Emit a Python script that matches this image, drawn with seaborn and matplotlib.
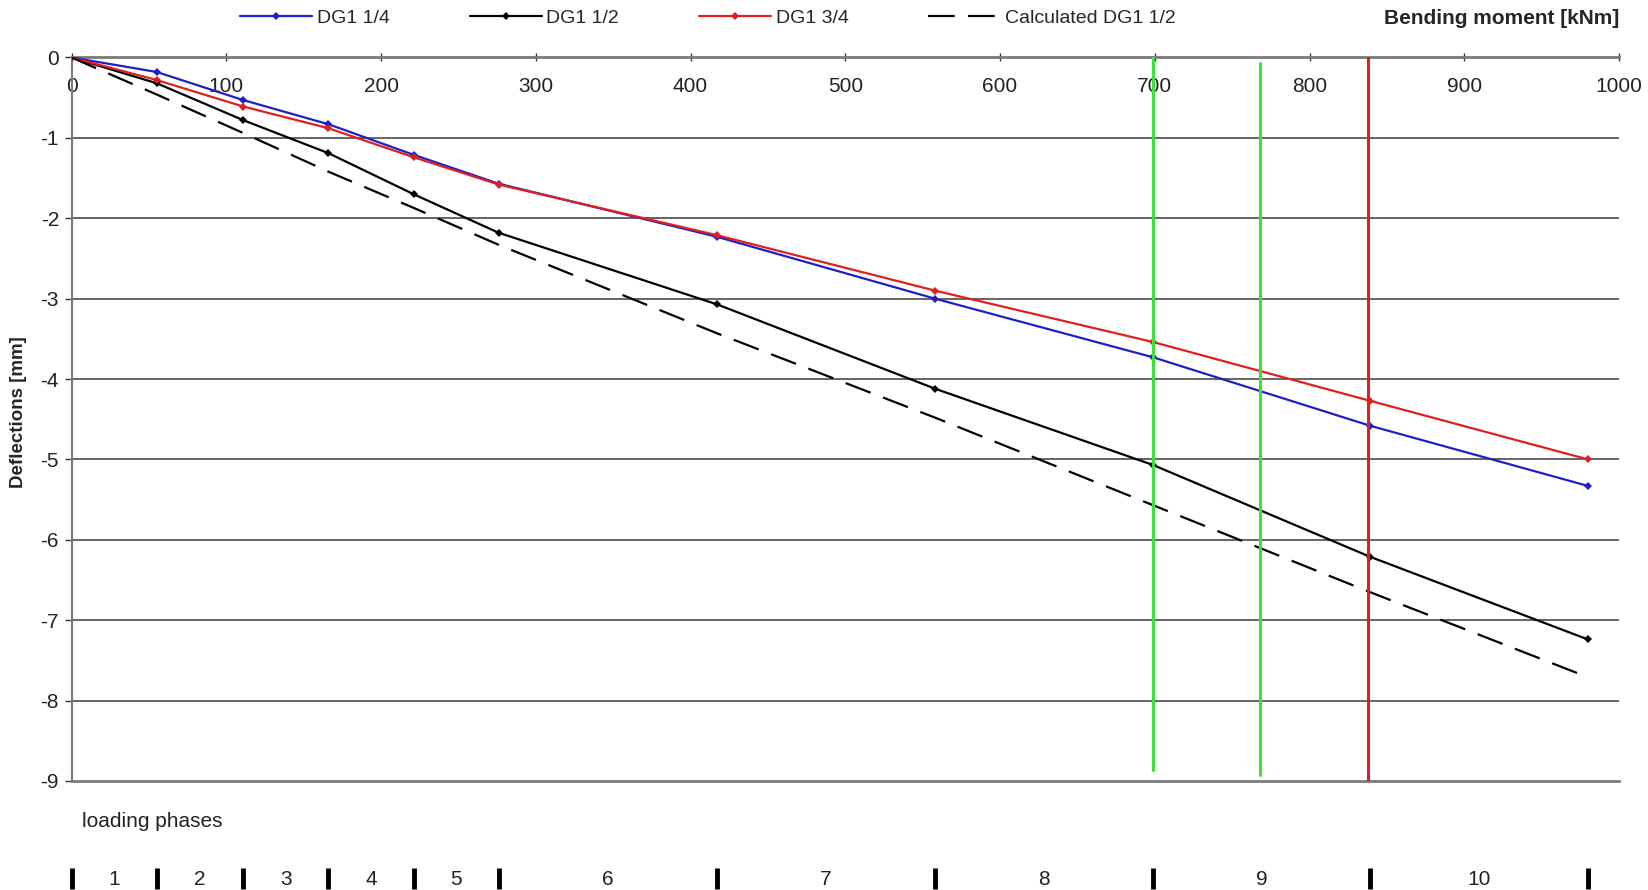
import matplotlib
matplotlib.use("Agg")
import matplotlib.pyplot as plt
import seaborn as sns
import pandas as pd

# Bending moment at each load step [kNm]
moment = [0, 55, 111, 166, 221, 276, 417, 558, 699, 839, 980]

# Measured deflections [mm]
dg1_14 = [0, -0.18, -0.53, -0.83, -1.21, -1.57, -2.23, -3.00, -3.73, -4.58, -5.33]
dg1_12 = [0, -0.32, -0.78, -1.19, -1.70, -2.18, -3.07, -4.12, -5.07, -6.21, -7.24]
dg1_34 = [0, -0.28, -0.61, -0.88, -1.24, -1.58, -2.21, -2.90, -3.54, -4.27, -5.00]
# Calculated deflection at mid span
calc_12 = [0, -0.46, -0.94, -1.42, -1.87, -2.33, -3.43, -4.48, -5.57, -6.65, -7.71]

series_names = ["DG1 1/4", "DG1 1/2", "DG1 3/4"]
series_colors = ["#1f1fc8", "#000000", "#e02020"]

# Vertical marker lines
vline_x = [699, 768, 838]
vline_top = [0, -0.07, 0]
vline_bottom = [-8.86, -8.93, -9.0]
vline_colors = ["#3ee03e", "#3ee03e", "#e02020"]

phase_labels = ["1", "2", "3", "4", "5", "6", "7", "8", "9", "10"]

df = pd.DataFrame({
    "moment": moment * 3,
    "deflection": dg1_14 + dg1_12 + dg1_34,
    "series": [s for s in series_names for _ in moment],
})

sns.set_style("white")
plt.rcParams["font.family"] = ["Liberation Sans", "DejaVu Sans"]
plt.rcParams["axes.unicode_minus"] = False

fig = plt.figure(figsize=(16.48, 8.9), dpi=100)
ax = fig.add_axes([0.0434, 0.1225, 0.939, 0.8129])

# horizontal grid first so data lines sit on top
for yv in range(-8, 0):
    ax.axhline(yv, color="#3a3a3a", lw=1.1, zorder=1)

sns.lineplot(data=df, x="moment", y="deflection", hue="series",
             hue_order=series_names, palette=series_colors,
             marker="D", markersize=4.5, markeredgewidth=0, lw=1.6,
             sort=False, ax=ax, zorder=3)
sns.lineplot(x=moment, y=calc_12, color="black", lw=1.6,
             linestyle=(0, (12, 6)), label="Calculated DG1 1/2",
             ax=ax, zorder=3)

for xv, yt, yb, c in zip(vline_x, vline_top, vline_bottom, vline_colors):
    ax.plot([xv, xv], [yt, yb], color=c, lw=2.2, zorder=4)

ax.set_xlim(0, 1000)
ax.set_ylim(-9, 0)

# axis frame
for side in ["top", "bottom"]:
    ax.spines[side].set_color("#7a7a7a")
    ax.spines[side].set_linewidth(2.0)
ax.spines["left"].set_color("#7a7a7a")
ax.spines["left"].set_linewidth(1.5)
ax.spines["right"].set_visible(False)

ax.xaxis.tick_top()
ax.set_xticks(range(0, 1001, 100))
ax.tick_params(axis="x", direction="inout", length=6, width=1, color="#333333",
               labelsize=15, labelcolor="#222222", pad=-31)
ax.set_yticks(range(-9, 1))
ax.tick_params(axis="y", direction="out", length=5, width=1, color="#333333",
               labelsize=15, labelcolor="#222222", pad=4, left=True)
ax.set_xlabel("")
ax.set_ylabel("Deflections [mm]", fontsize=13.5, fontweight="bold")
ax.yaxis.set_label_coords(-0.029, 0.51)

# top right axis title
ax.text(1000, 1.054, "Bending moment [kNm]", transform=ax.get_xaxis_transform(),
        ha="right", va="center", fontsize=15, fontweight="bold")

handles, labels = ax.get_legend_handles_labels()
ax.legend(handles, labels, loc="center left", bbox_to_anchor=(0.109, 1.054),
          ncol=4, frameon=False, fontsize=14, handlelength=3.7,
          handletextpad=0.25, columnspacing=4.1, borderpad=0, borderaxespad=0)

# loading phases strip below the plot
ax.text(7, -9.5, "loading phases", ha="left", va="center", fontsize=15,
        color="#222222", clip_on=False)
ax.vlines(moment, -10.08, -10.34, color="black", lw=3.5, clip_on=False)
mids = [(a + b) / 2 for a, b in zip(moment[:-1], moment[1:])]
for m, lab in zip(mids, phase_labels):
    ax.text(m, -10.23, lab, ha="center", va="center", fontsize=15,
            color="#222222", clip_on=False)

fig.savefig("out.png", dpi=100)
